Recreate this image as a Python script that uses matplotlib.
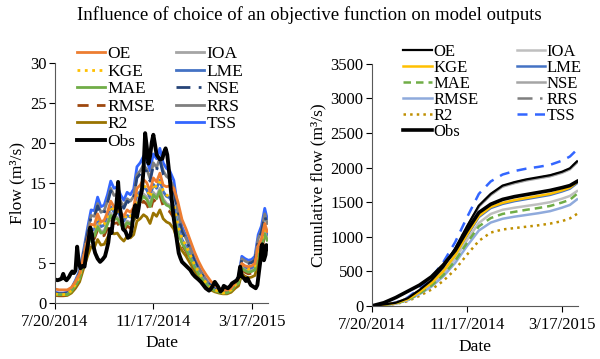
import datetime as dt

import numpy as np
import matplotlib
matplotlib.use("Agg")
import matplotlib.pyplot as plt

plt.rcParams['font.family'] = ['Liberation Serif', 'DejaVu Serif']

start = dt.date(2014, 7, 20)
tick_days = [0, 120, 240]
tick_labels = ['7/20/2014', '11/17/2014', '3/17/2015']

# ---- daily flow (left panel) ----
obs_days = [0, 3, 6, 8, 10, 12, 14, 17, 19, 21, 23, 25, 27, 29, 31, 34, 36, 38, 40, 43,
            45, 47, 49, 52, 55, 58, 61, 63, 65, 67, 69, 71, 74, 76, 77, 79, 81, 83, 86, 89,
            92, 94, 96, 98, 100, 102, 104, 106, 108, 110, 112, 114, 116, 118, 120, 122, 124,
            126, 128, 131, 133, 135, 137, 139, 141, 143, 145, 147, 149, 151, 153, 155, 158,
            161, 165, 168, 171, 175, 178, 181, 184, 188, 190, 192, 195, 197, 199, 202, 204,
            206, 209, 211, 214, 216, 219, 222, 224, 226, 228, 231, 233, 235, 237, 239, 242,
            245, 247, 249, 251, 252, 253, 255, 257, 258, 259]
obs_flow = [2.9, 2.8, 2.9, 3.0, 3.6, 3.0, 2.8, 3.2, 3.6, 3.9, 3.7, 4.0, 7.0, 5.0, 4.3, 4.6,
            4.5, 6.0, 7.2, 9.4, 8.6, 7.0, 6.2, 5.5, 5.1, 5.4, 5.8, 6.6, 7.5, 9.2, 8.7, 10.5,
            11.2, 13.5, 15.1, 12.0, 10.7, 9.2, 8.9, 8.1, 8.4, 9.5, 11.5, 12.2, 10.7, 11.8,
            13.2, 14.0, 16.6, 21.2, 19.5, 17.4, 18.3, 20.0, 21.0, 19.8, 18.5, 18.2, 17.9,
            18.0, 18.8, 19.3, 18.5, 16.6, 14.5, 12.4, 10.5, 9.1, 7.6, 6.2, 5.6, 5.1, 4.8,
            4.5, 4.1, 3.6, 3.25, 2.9, 2.6, 2.2, 1.8, 1.5, 1.7, 2.0, 2.6, 2.3, 2.0, 1.4, 1.6,
            2.1, 1.9, 1.8, 2.1, 2.4, 2.6, 2.8, 3.2, 4.5, 3.3, 3.0, 2.7, 3.05, 2.6, 2.2, 2.0,
            1.8, 2.2, 3.9, 5.5, 7.0, 7.3, 5.3, 6.0, 7.2, 6.8]

sim_days = [0, 5, 10, 15, 20, 25, 30, 35, 40, 44, 48, 52, 56, 60, 64, 68, 72, 76, 80, 84,
            88, 92, 96, 100, 104, 108, 112, 116, 120, 124, 128, 132, 136, 140, 145, 150,
            155, 160, 165, 170, 175, 180, 185, 190, 195, 200, 205, 210, 215, 220, 224, 228,
            232, 236, 240, 244, 248, 252, 256, 259]
oe = [1.7, 1.6, 1.6, 1.6, 1.9, 2.6, 3.6, 5.8, 8.1, 9.8, 9.7, 11.1, 10.1, 10.3, 11.3, 12.7,
      12.0, 12.2, 11.3, 10.8, 11.6, 11.3, 11.9, 14.3, 14.7, 15.4, 15.0, 13.9, 15.6, 15.1,
      16.2, 14.7, 14.5, 14.6, 14.3, 12.6, 10.4, 9.2, 7.8, 6.4, 5.2, 4.2, 3.4, 2.7, 2.2, 1.8,
      1.6, 1.6, 1.8, 2.5, 3.0, 4.9, 4.6, 4.5, 4.6, 4.9, 7.1, 8.0, 9.9, 8.9]
kge = [1.1, 1.0, 1.0, 1.1, 1.5, 2.3, 3.3, 5.5, 7.7, 9.3, 9.2, 10.6, 9.6, 9.8, 10.8, 12.1,
       11.5, 11.6, 10.8, 10.3, 11.1, 10.8, 11.4, 13.6, 14.0, 14.7, 14.3, 13.2, 14.9, 14.4,
       15.5, 14.0, 13.5, 13.2, 12.3, 9.7, 8.0, 7.1, 6.0, 4.8, 3.9, 3.1, 2.4, 1.9, 1.6, 1.4,
       1.2, 1.3, 1.6, 2.2, 2.7, 4.7, 4.4, 4.2, 4.3, 4.6, 6.8, 7.7, 9.5, 8.6]
mae = [1.0, 1.0, 1.0, 1.0, 1.4, 2.1, 3.0, 5.0, 7.0, 8.4, 8.3, 9.5, 8.7, 8.8, 9.8, 10.9,
       10.4, 10.5, 9.8, 9.3, 10.0, 9.8, 10.3, 12.3, 12.7, 13.3, 12.9, 12.0, 13.5, 13.0,
       14.0, 12.7, 12.2, 12.0, 11.1, 8.8, 7.4, 6.6, 5.6, 4.5, 3.6, 2.9, 2.3, 1.8, 1.5, 1.3,
       1.2, 1.2, 1.5, 2.1, 2.4, 4.3, 4.0, 3.8, 3.9, 4.1, 6.1, 6.9, 8.6, 7.8]
rmse = [1.0, 0.9, 0.9, 1.0, 1.3, 2.0, 2.9, 4.8, 6.7, 8.1, 8.0, 9.1, 8.3, 8.4, 9.3, 10.4,
        9.9, 10.0, 9.3, 8.9, 9.6, 9.3, 9.8, 11.8, 12.1, 12.7, 12.3, 11.4, 12.9, 12.5, 13.4,
        12.1, 11.6, 11.4, 10.6, 8.5, 7.2, 6.4, 5.4, 4.4, 3.5, 2.8, 2.2, 1.7, 1.5, 1.3, 1.2,
        1.2, 1.4, 2.0, 2.4, 4.1, 3.8, 3.6, 3.7, 4.0, 5.8, 6.6, 8.3, 7.5]
r2 = [0.9, 0.85, 0.85, 0.9, 1.2, 1.8, 2.6, 4.3, 5.9, 7.0, 6.9, 7.9, 7.2, 7.3, 8.1, 9.0,
      8.6, 8.7, 8.1, 7.7, 8.3, 8.1, 8.5, 10.2, 10.5, 11.0, 10.7, 9.9, 11.2, 10.8, 11.6,
      10.5, 10.1, 9.9, 9.2, 7.5, 6.5, 5.8, 4.9, 4.0, 3.2, 2.6, 2.0, 1.6, 1.35, 1.2, 1.1,
      1.1, 1.3, 1.8, 2.1, 3.6, 3.3, 3.1, 3.2, 3.4, 5.0, 5.7, 7.2, 6.6]
ioa = [1.0, 1.0, 1.0, 1.0, 1.4, 2.2, 3.1, 5.1, 7.2, 8.6, 8.5, 9.8, 8.9, 9.0, 10.0, 11.2,
       10.6, 10.7, 10.0, 9.5, 10.2, 10.0, 10.5, 12.6, 13.0, 13.6, 13.2, 12.2, 13.8, 13.3,
       14.3, 13.0, 12.4, 12.2, 11.3, 9.0, 7.6, 6.7, 5.6, 4.6, 3.7, 3.0, 2.3, 1.8, 1.5, 1.3,
       1.2, 1.2, 1.5, 2.1, 2.5, 4.4, 4.1, 3.9, 4.0, 4.2, 6.2, 7.1, 8.8, 8.0]
lme = [1.1, 1.0, 1.0, 1.1, 1.5, 2.3, 3.3, 5.4, 7.6, 9.2, 9.1, 10.4, 9.5, 9.7, 10.7, 12.0,
       11.3, 11.5, 10.7, 10.2, 10.9, 10.7, 11.2, 13.5, 13.9, 14.5, 14.1, 13.1, 14.8, 14.3,
       15.3, 13.9, 13.3, 13.1, 12.1, 9.6, 7.9, 7.0, 5.9, 4.8, 3.8, 3.1, 2.4, 1.9, 1.6, 1.3,
       1.2, 1.2, 1.5, 2.2, 2.6, 4.7, 4.4, 4.2, 4.3, 4.6, 6.7, 7.6, 9.4, 8.5]
nse = [1.2, 1.1, 1.1, 1.2, 1.7, 2.6, 3.7, 6.1, 8.8, 10.7, 10.6, 12.1, 11.0, 11.2, 12.4,
       14.0, 13.2, 13.3, 12.4, 11.8, 12.7, 12.4, 13.1, 15.6, 16.1, 16.8, 16.4, 15.2, 17.1,
       16.6, 17.8, 16.1, 15.5, 15.2, 14.1, 10.9, 8.9, 7.8, 6.6, 5.3, 4.2, 3.4, 2.6, 2.1,
       1.7, 1.4, 1.3, 1.3, 1.7, 2.4, 3.0, 5.4, 5.1, 4.9, 5.0, 5.3, 7.8, 8.8, 10.9, 9.7]
rrs = [1.2, 1.1, 1.1, 1.2, 1.7, 2.7, 3.8, 6.3, 9.0, 10.9, 10.8, 12.4, 11.3, 11.5, 12.7,
       14.3, 13.4, 13.6, 12.7, 12.0, 13.0, 12.7, 13.3, 16.0, 16.5, 17.2, 16.7, 15.5, 17.5,
       16.9, 18.1, 16.5, 15.8, 15.5, 14.4, 11.2, 9.1, 8.0, 6.7, 5.4, 4.3, 3.5, 2.7, 2.1,
       1.7, 1.5, 1.3, 1.4, 1.7, 2.5, 3.0, 5.5, 5.2, 5.0, 5.1, 5.4, 8.0, 9.0, 11.1, 9.9]
tss = [1.3, 1.2, 1.2, 1.3, 1.8, 2.8, 4.0, 6.6, 9.5, 11.6, 11.5, 13.2, 12.0, 12.2, 13.5,
       15.2, 14.3, 14.5, 13.5, 12.8, 13.8, 13.5, 14.2, 17.0, 17.5, 18.3, 17.8, 16.5, 18.6,
       18.0, 19.3, 17.5, 16.8, 16.5, 15.3, 11.8, 9.5, 8.3, 7.0, 5.6, 4.5, 3.6, 2.8, 2.2,
       1.8, 1.5, 1.3, 1.4, 1.8, 2.6, 3.2, 5.8, 5.5, 5.3, 5.4, 5.8, 8.5, 9.6, 11.8, 10.5]

# ---- cumulative flow (right panel) ----
cum_days = [0, 15, 30, 45, 60, 75, 90, 105, 120, 135, 150, 165, 180, 195, 210, 225, 240, 250, 259]
cum_obs = [0, 45, 120, 210, 300, 420, 590, 800, 1090, 1350, 1470, 1540, 1580, 1610, 1640, 1670, 1710, 1740, 1800]
cum_oe = [0, 20, 45, 110, 230, 370, 560, 830, 1150, 1450, 1620, 1740, 1790, 1830, 1860, 1890, 1940, 1990, 2090]
cum_nse = [0, 19, 43, 105, 222, 360, 548, 815, 1135, 1435, 1605, 1725, 1775, 1815, 1845, 1875, 1925, 1975, 2075]
cum_rrs = [0, 20, 44, 108, 226, 366, 555, 822, 1140, 1440, 1610, 1730, 1782, 1822, 1852, 1882, 1932, 1982, 2082]
cum_tss = [0, 20, 47, 120, 250, 410, 630, 920, 1280, 1620, 1800, 1900, 1950, 1985, 2010, 2040, 2100, 2160, 2260]
cum_kge = [0, 17, 40, 95, 200, 330, 500, 730, 1030, 1300, 1430, 1490, 1530, 1560, 1590, 1620, 1670, 1710, 1790]
cum_lme = [0, 17, 39, 93, 196, 325, 492, 720, 1015, 1285, 1415, 1475, 1515, 1545, 1575, 1605, 1655, 1695, 1775]
cum_ioa = [0, 16, 37, 88, 186, 305, 465, 680, 950, 1200, 1330, 1390, 1420, 1445, 1470, 1500, 1550, 1590, 1660]
cum_mae = [0, 15, 35, 84, 178, 292, 445, 650, 910, 1150, 1270, 1330, 1360, 1390, 1415, 1445, 1495, 1535, 1620]
cum_rmse = [0, 14, 33, 80, 170, 278, 425, 620, 865, 1090, 1205, 1260, 1290, 1315, 1340, 1370, 1420, 1460, 1540]
cum_r2 = [0, 12, 28, 68, 145, 235, 360, 525, 740, 940, 1060, 1105, 1125, 1145, 1165, 1190, 1225, 1265, 1330]


def to_dates(days):
    return [start + dt.timedelta(days=d) for d in days]


fig = plt.figure(figsize=(6.0, 3.59), dpi=100)
ax1 = fig.add_axes([0.0917, 0.157, 0.355, 0.668])
ax2 = fig.add_axes([0.620, 0.148, 0.343, 0.674])

# left panel
sd = to_dates(sim_days)
left = [
    ('OE', oe, '#ED7D31', '-'),
    ('KGE', kge, '#FFC000', ':'),
    ('MAE', mae, '#70AD47', '-'),
    ('RMSE', rmse, '#9E480E', (0, (4, 3))),
    ('R2', r2, '#997300', '-'),
]
right_col = [
    ('IOA', ioa, '#A5A5A5', '-'),
    ('LME', lme, '#4472C4', '-'),
    ('NSE', nse, '#264478', (0, (5, 3, 1, 3))),
    ('RRS', rrs, '#7F7F7F', '-'),
    ('TSS', tss, '#3366FF', '-'),
]
h = {}
for name, vals, c, ls in right_col[::-1] + left[::-1]:
    h[name], = ax1.plot(sd, vals, color=c, ls=ls, lw=2.0)
h['Obs'], = ax1.plot(to_dates(obs_days), obs_flow, color='black', lw=2.8)
order = ['OE', 'KGE', 'MAE', 'RMSE', 'R2', 'Obs', 'IOA', 'LME', 'NSE', 'RRS', 'TSS']
ax1.legend([h[k] for k in order], order, loc='upper left', ncol=2, frameon=False,
           bbox_to_anchor=(0.128, 0.872), bbox_transform=fig.transFigure,
           fontsize=12.5, handlelength=1.6, handletextpad=0.15, columnspacing=1.25,
           labelspacing=0.08, borderpad=0, borderaxespad=0)
ax1.set_ylim(0, 30)
ax1.set_yticks(range(0, 31, 5))
ax1.set_ylabel('Flow (m³/s)', fontsize=12.5, labelpad=3)

# right panel
cd = to_dates(cum_days)
series2 = [
    ('OE', cum_oe, 'black', '-', 1.6),
    ('KGE', cum_kge, '#FFC000', '-', 1.8),
    ('MAE', cum_mae, '#70AD47', (0, (3, 2)), 1.8),
    ('RMSE', cum_rmse, '#8FAADC', '-', 1.8),
    ('R2', cum_r2, '#BF8F00', ':', 1.8),
    ('IOA', cum_ioa, '#BFBFBF', '-', 1.8),
    ('LME', cum_lme, '#4472C4', '-', 1.8),
    ('NSE', cum_nse, '#A5A5A5', '-', 1.8),
    ('RRS', cum_rrs, '#7F7F7F', (0, (6, 3, 1, 3)), 1.8),
    ('TSS', cum_tss, '#3366FF', (0, (4, 3)), 1.8),
]
h2 = {}
for name, vals, c, ls, lw in series2[::-1]:
    h2[name], = ax2.plot(cd, vals, color=c, ls=ls, lw=lw)
h2['Obs'], = ax2.plot(cd, cum_obs, color='black', lw=2.6)
ax2.legend([h2[k] for k in order], order, loc='upper left', ncol=2, frameon=False,
           bbox_to_anchor=(0.672, 0.877), bbox_transform=fig.transFigure,
           fontsize=12, handlelength=1.7, handletextpad=0.1, columnspacing=2.3,
           labelspacing=0.0, borderpad=0, borderaxespad=0)
ax2.set_ylim(0, 3500)
ax2.set_yticks(range(0, 3501, 500))
ax2.set_ylabel('Cumulative flow (m³/s)', fontsize=12.5, labelpad=3)

for ax in (ax1, ax2):
    ax.spines['top'].set_visible(False)
    ax.spines['right'].set_visible(False)
    ax.set_xlim(start, start + dt.timedelta(days=260))
    ax.set_xticks(to_dates(tick_days))
    ax.set_xticklabels(tick_labels)
    ax.tick_params(axis='y', labelsize=12, direction='out', length=4, width=0.8, pad=2)
    ax.tick_params(axis='x', labelsize=12, direction='out', length=4, width=0.8, pad=4)
    ax.set_xlabel('Date', fontsize=12.5, labelpad=4)
    for s in ('left', 'bottom'):
        ax.spines[s].set_color('#595959')

fig.text(0.515, 1 - 15 / 359, 'Influence of choice of an objective function on model outputs',
         ha='center', va='center', fontsize=13.5)

fig.savefig('out.png', dpi=100)
